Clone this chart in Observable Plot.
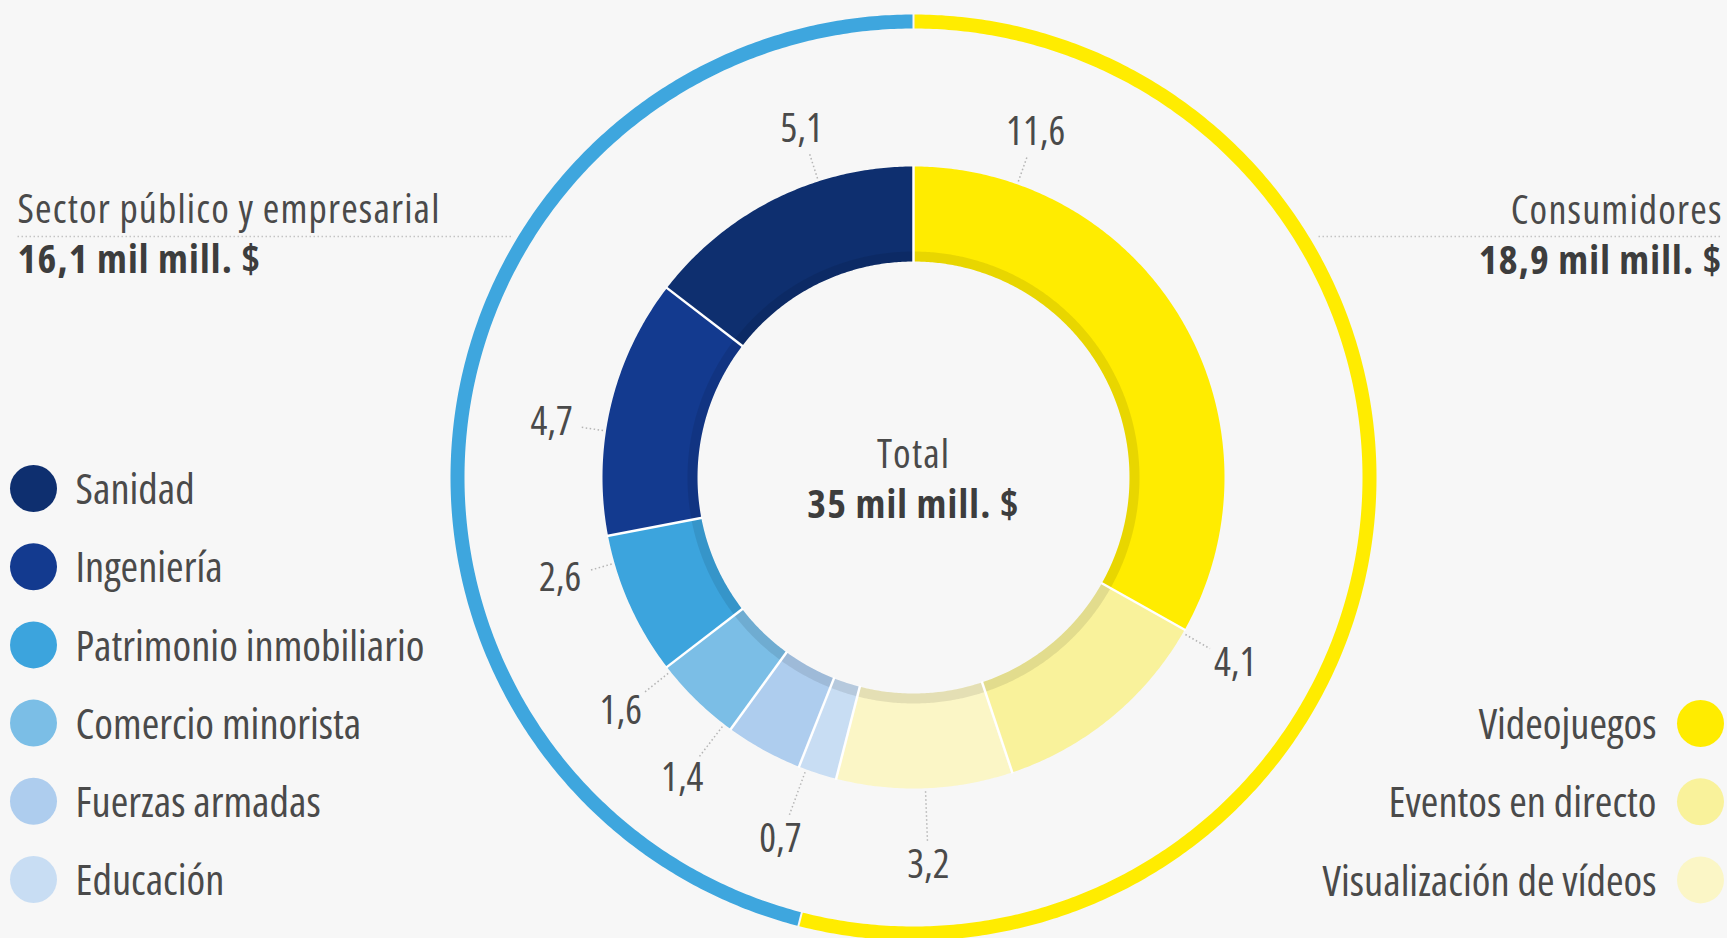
<!DOCTYPE html>
<html><head><meta charset="utf-8">
<script src="https://cdn.jsdelivr.net/npm/d3@7"></script>
<script src="https://cdn.jsdelivr.net/npm/@observablehq/plot@0.6"></script>
<style>
html,body{margin:0;padding:0;background:#f7f7f7;overflow:hidden}
#chart svg{display:block}
</style></head><body><div id="chart"></div>
<script>
// ---- data ----
const consumerCats = ["Videojuegos", "Eventos en directo", "Visualización de vídeos"];
const consumerVals = [11.6, 4.1, 3.2];
const consumerColors = ["#ffec00", "#f9f29b", "#fbf6c6"];
const businessCats = ["Sanidad", "Ingeniería", "Patrimonio inmobiliario", "Comercio minorista", "Fuerzas armadas", "Educación"];
const businessVals = [5.1, 4.7, 2.6, 1.6, 1.4, 0.7];
const businessColors = ["#0e2f6f", "#133a8f", "#3ca4dd", "#7bbee6", "#aecdee", "#c8ddf3"];
const groupNames = ["Consumidores", "Sector público y empresarial"];
const groupColors = ["#ffec00", "#3ea6de"];
const totalTitle = "Total";
const unit = "mil mill. $";

// ---- layout ----
const W = 1727, H = 938, CX = 913, CY = 477;
const R_IN = 216, R_OUT = 311, R_SH = 226, R_RIN = 449, R_ROUT = 463;
const FONT = "'Open Sans', Roboto, sans-serif";
const TXT = "#4a4a4a", BOLD = "#3d3d3d";
const fmt = v => d3.format(".1~f")(v).replace(".", ",");

const slices = [
  ...consumerCats.map((c, i) => ({cat: c, value: consumerVals[i]})),
  ...businessCats.map((c, i) => ({cat: c, value: businessVals[i]})).reverse()
];
const labelAngle = {"Videojuegos": 19.5, "Eventos en directo": 120, "Visualización de vídeos": 177.8, "Educación": 200.2, "Fuerzas armadas": 217.5, "Comercio minorista": 231.4, "Patrimonio inmobiliario": 254, "Ingeniería": 278.6, "Sanidad": -17.8};
const arcs = d3.pie().sort(null).value(d => d.value)(slices);

function poly(key, a0, a1, r0, r1) {
  const n = Math.max(2, Math.ceil((a1 - a0) / (Math.PI / 360)));
  const pts = [];
  for (let i = 0; i <= n; i++) { const a = a0 + (a1 - a0) * i / n; pts.push({key, x: r1 * Math.sin(a), y: r1 * Math.cos(a)}); }
  for (let i = n; i >= 0; i--) { const a = a0 + (a1 - a0) * i / n; pts.push({key, x: r0 * Math.sin(a), y: r0 * Math.cos(a)}); }
  return pts;
}
const slicePts = arcs.flatMap(a => poly(a.data.cat, a.startAngle, a.endAngle, R_IN, R_OUT));
const sep = arcs.map(a => ({a: a.startAngle}));

const consTotal = d3.sum(consumerVals), busTotal = d3.sum(businessVals), total = consTotal + busTotal;
const ringSplit = 2 * Math.PI * consTotal / total;
const ringCons = poly("c", 0, ringSplit, R_RIN, R_ROUT);
const ringBus = poly("b", ringSplit, 2 * Math.PI, R_RIN, R_ROUT);
const shadow = poly("s", 0, 2 * Math.PI, R_IN, R_SH);

const deg = Math.PI / 180;
const labels = arcs.map(a => {
  const t = labelAngle[a.data.cat] * deg;
  const c = Math.cos(t);
  const r = 366 + (c < 0 ? 22 * c * c : 0);
  const r2 = r - 24 - 6 * Math.abs(Math.sin(t));
  return {text: fmt(a.data.value), x: r * Math.sin(t), y: r * Math.cos(t),
    x1: (R_OUT + 3) * Math.sin(t), y1: (R_OUT + 3) * Math.cos(t),
    x2: r2 * Math.sin(t), y2: r2 * Math.cos(t)};
});

const px = X => X - CX, py = Y => CY - Y;
const legL = businessCats.map((c, i) => ({cat: c, x: px(33), tx: px(75), y: py(488 + i * 78.2)}));
const legR = consumerCats.map((c, i) => ({cat: c, x: px(1700), tx: px(1656), y: py(723 + i * 78.2)}));
const headL = [{name: groupNames[1], val: `${fmt(busTotal)} ${unit}`}];
const headR = [{name: groupNames[0], val: `${fmt(consTotal)} ${unit}`}];
const totalText = `${fmt(total)} ${unit}`;

const chart = Plot.plot({
  width: W, height: H, margin: 0,
  x: {domain: [-CX, W - CX], axis: null},
  y: {domain: [CY - H, CY], axis: null},
  color: {domain: [...consumerCats, ...businessCats], range: [...consumerColors, ...businessColors]},
  style: {background: "#f7f7f7", fontFamily: FONT, fontStretch: "condensed"},
  marks: [
    Plot.line(ringCons, {x: "x", y: "y", fill: groupColors[0], stroke: "none", curve: "linear-closed"}),
    Plot.line(ringBus, {x: "x", y: "y", fill: groupColors[1], stroke: "none", curve: "linear-closed"}),
    Plot.link([0, ringSplit], {x1: a => (R_RIN - 2) * Math.sin(a), y1: a => (R_RIN - 2) * Math.cos(a), x2: a => (R_ROUT + 2) * Math.sin(a), y2: a => (R_ROUT + 2) * Math.cos(a), stroke: "#f7f7f7", strokeWidth: 2}),
    Plot.line(slicePts, {x: "x", y: "y", z: "key", fill: "key", stroke: "none", curve: "linear-closed"}),
    Plot.line(shadow, {x: "x", y: "y", fill: "#000", fillOpacity: 0.09, stroke: "none", curve: "linear-closed"}),
    Plot.link(sep, {x1: d => (R_IN - 1) * Math.sin(d.a), y1: d => (R_IN - 1) * Math.cos(d.a), x2: d => (R_OUT + 1) * Math.sin(d.a), y2: d => (R_OUT + 1) * Math.cos(d.a), stroke: "white", strokeWidth: 2.5}),
    Plot.link(labels, {x1: "x1", y1: "y1", x2: "x2", y2: "y2", stroke: "#b5b5b5", strokeWidth: 1.5, strokeDasharray: "1.5,2.5"}),
    Plot.text(labels, {x: "x", y: "y", text: "text", fontSize: 39.5, fill: TXT, lineAnchor: "middle"}),
    Plot.text([totalTitle], {x: 0, y: py(467), text: d => d, fontSize: 40, fill: TXT, lineAnchor: "bottom"}),
    Plot.text([totalText], {x: 0, y: py(517), text: d => d, fontSize: 40, fontWeight: "bold", fill: BOLD, lineAnchor: "bottom"}),
    Plot.link([[px(17), px(513)], [px(1318), px(1722)]], {x1: d => d[0], x2: d => d[1], y1: py(236), y2: py(236), stroke: "#c4c4c4", strokeWidth: 1.5, strokeDasharray: "1.5,2.5"}),
    Plot.text(headL, {x: px(17), y: py(222), text: "name", textAnchor: "start", fontSize: 40, fill: TXT, lineAnchor: "bottom"}),
    Plot.text(headL, {x: px(17), y: py(272), text: "val", textAnchor: "start", fontSize: 40, fontWeight: "bold", fill: BOLD, lineAnchor: "bottom"}),
    Plot.text(headR, {x: px(1722), y: py(223), text: "name", textAnchor: "end", fontSize: 40, fill: TXT, lineAnchor: "bottom"}),
    Plot.text(headR, {x: px(1722), y: py(273), text: "val", textAnchor: "end", fontSize: 40, fontWeight: "bold", fill: BOLD, lineAnchor: "bottom"}),
    Plot.dot(legL, {x: "x", y: "y", r: 23.5, fill: "cat", stroke: "none"}),
    Plot.text(legL, {x: "tx", y: "y", text: "cat", textAnchor: "start", fontSize: 42.5, fill: TXT, lineAnchor: "middle", dy: 2}),
    Plot.dot(legR, {x: "x", y: "y", r: 23.5, fill: "cat", stroke: "none"}),
    Plot.text(legR, {x: "tx", y: "y", text: "cat", textAnchor: "end", fontSize: 42.5, fill: TXT, lineAnchor: "middle", dy: 2})
  ]
});
// slightly wider tracking for the header and centre texts
const wide = new Set([totalTitle, totalText, headL[0].name, headL[0].val, headR[0].name, headR[0].val]);
chart.querySelectorAll("text").forEach(t => { if (wide.has(t.textContent)) t.style.letterSpacing = "1.15px"; });
document.getElementById("chart").append(chart);
</script></body></html>
